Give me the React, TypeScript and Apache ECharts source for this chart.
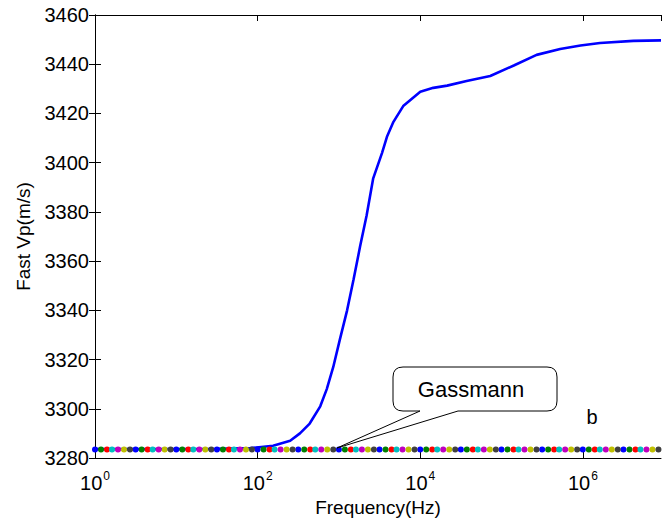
import React, { useEffect, useRef } from "react";
import * as echarts from "echarts";

// Frequency exponents (log10 of Hz) and fast P-wave velocity (m/s) of the dispersive curve
const curveExp = [0, 0.5, 1.0, 1.5, 1.91, 2.19, 2.40, 2.52, 2.64, 2.77, 2.85, 2.93, 3.01, 3.10, 3.18, 3.26, 3.34, 3.42, 3.53, 3.59, 3.67, 3.79, 4.00, 4.16, 4.33, 4.57, 4.86, 5.15, 5.43, 5.72, 5.97, 6.21, 6.62, 6.96];
const curveVp = [3283.6, 3283.6, 3283.6, 3283.7, 3284, 3285, 3287, 3290, 3294, 3301, 3308, 3317, 3328, 3340, 3352.6, 3366, 3378.5, 3393.5, 3404, 3410.5, 3416.6, 3423, 3428.8, 3430.4, 3431.3, 3433.2, 3435.2, 3439.5, 3443.8, 3446.2, 3447.6, 3448.6, 3449.5, 3449.7];

// Gassmann (low-frequency) limit, drawn as overlapping dotted lines of 7 colours
const gassmannExp = [0, 6.96];
const gassmannVp = [3283.5, 3283.5];
const gassmannColors = ["#0000FF", "#008000", "#FF0000", "#00BFBF", "#BF00BF", "#BFBF00", "#404040"];

const xMin = 0;
const xMax = 6.96;
const yMin = 3280;
const yMax = 3460;

const FONT = "Liberation Sans, Arial, Helvetica, sans-serif";

const calloutPath =
  "M403 367 L547 367 Q557 367 557 377 L557 401 Q557 411 547 411 L458 411 L337 448 L420 411 L403 411 Q393 411 393 401 L393 377 Q393 367 403 367 Z";

echarts.graphic.registerShape("callout", echarts.graphic.extendPath(calloutPath, {}));

export default function App() {
  const ref = useRef<HTMLDivElement>(null);
  useEffect(() => {
    if (!ref.current) return;
    const chart = echarts.init(ref.current, null, { renderer: "svg" });
    const dotSpacing = 81.3 / 14;
    const period = dotSpacing * gassmannColors.length;
    const dotSeries = gassmannColors.map((c, k) => ({
      type: "line",
      name: "Gassmann " + (k + 1),
      data: gassmannExp.map((x, i) => [x, gassmannVp[i]]),
      symbol: "none",
      clip: false,
      z: 3,
      lineStyle: {
        color: c,
        width: 6,
        cap: "round",
        type: [0.01, period - 0.01],
        dashOffset: -k * dotSpacing,
      },
    }));
    const axisCommon = {
      axisLine: { show: true, lineStyle: { color: "#000", width: 1 } },
      axisTick: { show: true, inside: true, length: 6, lineStyle: { color: "#000", width: 1 } },
      splitLine: { show: false },
    };
    chart.setOption({
      animation: false,
      backgroundColor: "#fff",
      grid: { left: 95, right: 1, top: 15, bottom: 67 },
      xAxis: [
        {
          type: "value",
          min: xMin,
          max: xMax,
          interval: 2,
          position: "bottom",
          ...axisCommon,
          name: "Frequency(Hz)",
          nameLocation: "middle",
          nameGap: 40,
          nameTextStyle: { fontFamily: FONT, fontSize: 19, color: "#000" },
          axisLabel: {
            showMaxLabel: false,
            margin: 12,
            formatter: (v: number) => `{b|10}{s|${Math.round(v)}}`,
            rich: {
              b: { fontFamily: FONT, fontSize: 20, color: "#000" },
              s: { fontFamily: FONT, fontSize: 12, color: "#000", padding: [0, 0, 14, 1] },
            },
          },
        },
        {
          type: "value",
          min: xMin,
          max: xMax,
          interval: 2,
          position: "top",
          ...axisCommon,
          axisLabel: { show: false },
        },
      ],
      yAxis: [
        {
          type: "value",
          min: yMin,
          max: yMax,
          interval: 20,
          position: "left",
          ...axisCommon,
          name: "Fast Vp(m/s)",
          nameLocation: "middle",
          nameGap: 62,
          nameTextStyle: { fontFamily: FONT, fontSize: 19, color: "#000" },
          axisLabel: {
            margin: 6,
            fontFamily: FONT,
            fontSize: 20,
            color: "#000",
            formatter: (v: number) => String(v),
          },
        },
        {
          type: "value",
          min: yMin,
          max: yMax,
          interval: 20,
          position: "right",
          ...axisCommon,
          axisLabel: { show: false },
        },
      ],
      series: [
        {
          type: "line",
          name: "Fast Vp",
          data: curveExp.map((x, i) => [x, curveVp[i]]),
          symbol: "none",
          smooth: false,
          z: 2,
          lineStyle: { color: "#0000FF", width: 2.6 },
        },
        ...dotSeries,
      ],
      graphic: [
        {
          type: "callout",
          x: 0,
          y: 0,
          z: 100,
          style: { fill: "#fff", stroke: "#000", lineWidth: 1 },
        },
        {
          type: "text",
          x: 471,
          y: 389,
          z: 101,
          style: {
            text: "Gassmann",
            fontFamily: FONT,
            fontSize: 22,
            fill: "#000",
            align: "center",
            verticalAlign: "middle",
          },
        },
        {
          type: "text",
          x: 592,
          y: 417,
          z: 101,
          style: {
            text: "b",
            fontFamily: FONT,
            fontSize: 20,
            fill: "#000",
            align: "center",
            verticalAlign: "middle",
          },
        },
      ],
    });
    return () => chart.dispose();
  }, []);
  return (
    <div
      ref={ref}
      style={{ position: "fixed", left: 0, top: 0, width: 662, height: 525, background: "#fff" }}
    />
  );
}
